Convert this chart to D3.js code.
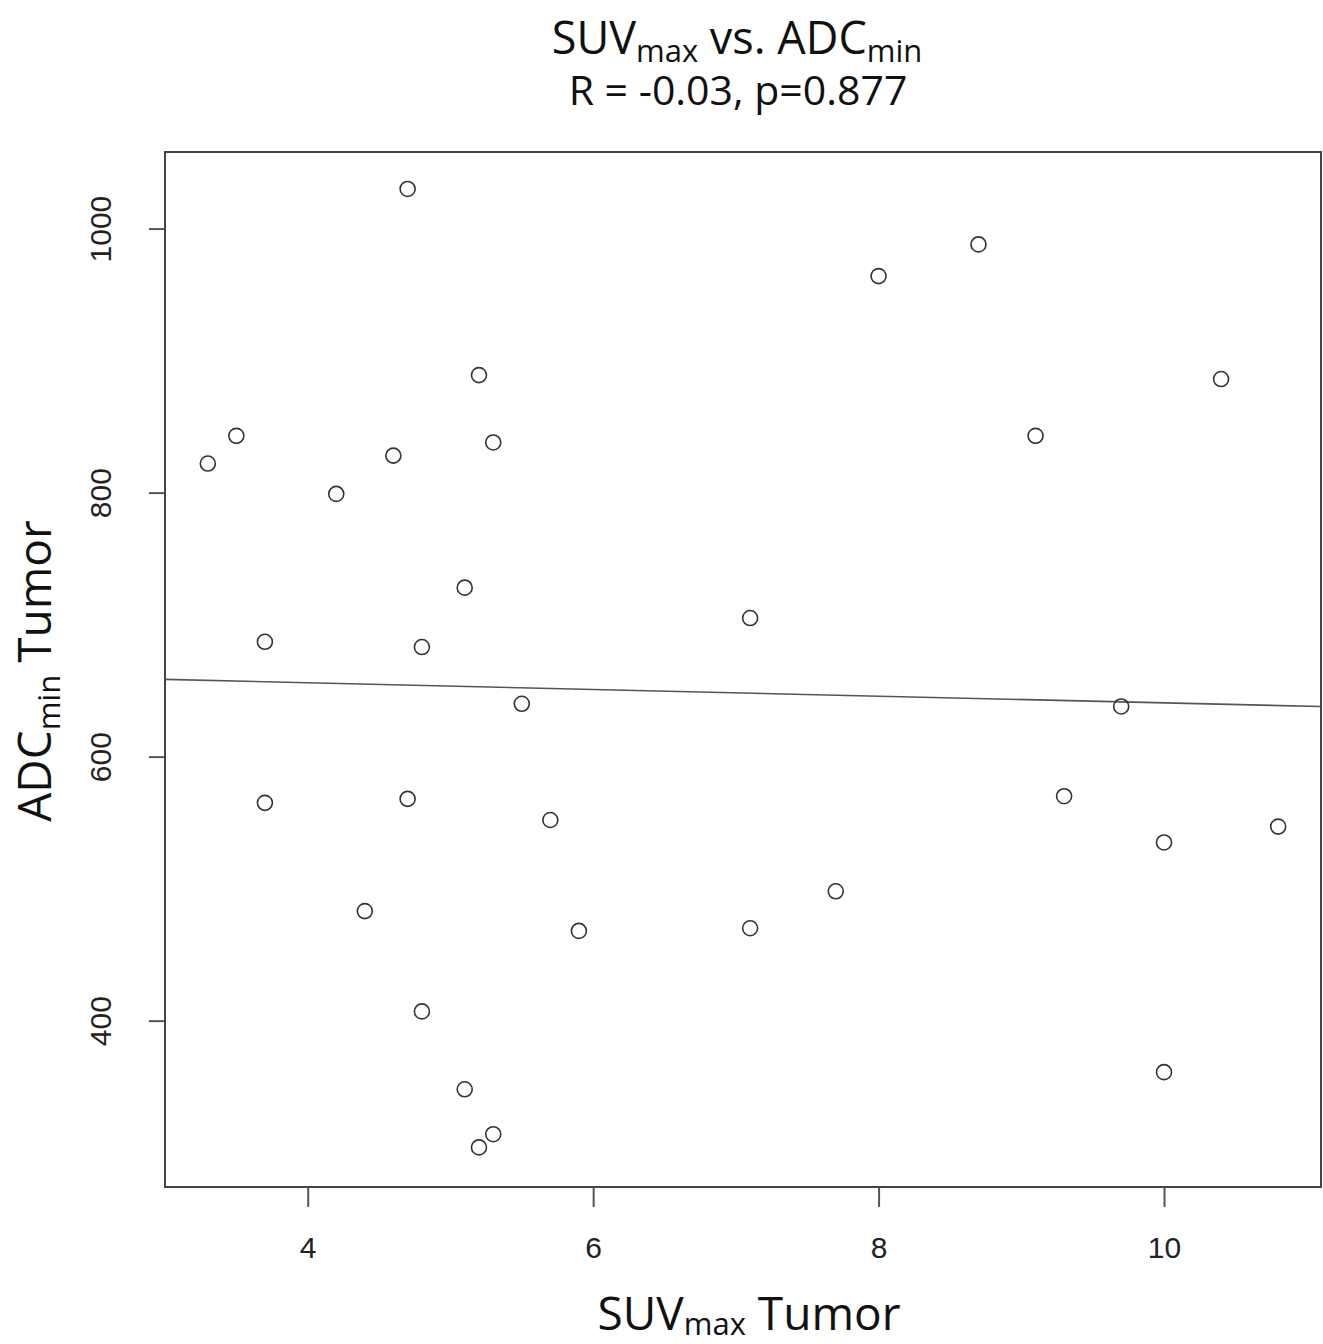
<!DOCTYPE html>
<html>
<head>
<title>SUVmax vs ADCmin</title>
<style>
  body{margin:0;background:#fff;}
  .tick text{font-family:"Liberation Sans",Arial,sans-serif;font-size:30px;fill:#222;}
  .ttl{font-family:"Open Sans","Noto Sans",sans-serif;fill:#111;}
</style>
<script src="https://d3js.org/d3.v7.min.js"></script>
</head>
<body>
<svg width="1323" height="1344"></svg>
<script>
var suvMax = [3.3,3.5,3.7,3.7,4.2,4.4,4.6,4.7,4.7,4.8,4.8,5.1,5.1,5.2,5.2,5.3,5.3,5.5,5.7,5.9,7.1,7.1,7.7,8.0,8.7,9.1,9.3,9.7,10.0,10.0,10.4,10.8];
var adcMin = [822,843,687,565,799,483,828,1030,568,683,407,728,348,889,304,838,314,640,552,468,705,470,498,964,988,843,570,638,535,361,886,547];
var xTicks = [4,6,8,10];
var yTicks = [400,600,800,1000];

var svg = d3.select("svg"),
    margin = {top:152, right:2, bottom:157, left:165},
    width = 1323 - margin.left - margin.right,
    height = 1344 - margin.top - margin.bottom;

var x = d3.scaleLinear().domain([3, 11.1]).range([0, width]);
var y = d3.scaleLinear().domain([274, 1058]).range([height, 0]);

var g = svg.append("g").attr("transform","translate("+margin.left+","+margin.top+")");

// axes
var xa = g.append("g").attr("transform","translate(0,"+height+")")
  .call(d3.axisBottom(x).tickValues(xTicks).tickFormat(d3.format("d")).tickSize(20).tickPadding(30));
var ya = g.append("g")
  .call(d3.axisLeft(y).tickValues(yTicks).tickFormat(d3.format("d")).tickSize(16));
[xa, ya].forEach(function(a){
  a.select(".domain").remove();
  a.selectAll(".tick line").attr("stroke","#555").attr("stroke-width",2);
});
ya.selectAll(".tick text")
  .attr("x",0).attr("y",0)
  .attr("text-anchor","middle")
  .attr("transform","translate(-65,0) rotate(-90)")
  .attr("dy","0.35em");

// box
g.append("rect").attr("width",width).attr("height",height)
  .attr("fill","none").attr("stroke","#444").attr("stroke-width",2);

// regression line (least squares from the points)
var mx = d3.mean(suvMax), my = d3.mean(adcMin);
var sxy = d3.sum(suvMax, function(v,i){return (v-mx)*(adcMin[i]-my);});
var sxx = d3.sum(suvMax, function(v){return (v-mx)*(v-mx);});
var slope = sxy/sxx, icpt = my - slope*mx;
var xd = x.domain();
g.append("line")
  .attr("x1",x(xd[0])).attr("y1",y(icpt+slope*xd[0]))
  .attr("x2",x(xd[1])).attr("y2",y(icpt+slope*xd[1]))
  .attr("stroke","#555").attr("stroke-width",1.6);

// points
g.selectAll("circle").data(suvMax).enter().append("circle")
  .attr("cx",function(d){return x(d);})
  .attr("cy",function(d,i){return y(adcMin[i]);})
  .attr("r",7.5).attr("fill","none").attr("stroke","#333").attr("stroke-width",1.6);

// titles
var t1 = svg.append("text").attr("class","ttl").attr("x",737).attr("y",54)
  .attr("text-anchor","middle").style("font-size","45px");
t1.append("tspan").text("SUV");
t1.append("tspan").text("max").style("font-size","31px").attr("dy",8);
t1.append("tspan").text(" vs. ADC").attr("dy",-8);
t1.append("tspan").text("min").style("font-size","31px").attr("dy",8);

svg.append("text").attr("class","ttl").attr("x",738).attr("y",105)
  .attr("text-anchor","middle").style("font-size","41px").text("R = -0.03, p=0.877");

var xl = svg.append("text").attr("class","ttl").attr("x",749).attr("y",1330)
  .attr("text-anchor","middle").style("font-size","46px");
xl.append("tspan").text("SUV");
xl.append("tspan").text("max").style("font-size","31px").attr("dy",5);
xl.append("tspan").text(" Tumor").attr("dy",-5);

var yl = svg.append("text").attr("class","ttl")
  .attr("transform","translate(51,671) rotate(-90)")
  .attr("text-anchor","middle").style("font-size","46px");
yl.append("tspan").text("ADC");
yl.append("tspan").text("min").style("font-size","31px").attr("dy",9);
yl.append("tspan").text(" Tumor").attr("dy",-9);
</script>
</body>
</html>
